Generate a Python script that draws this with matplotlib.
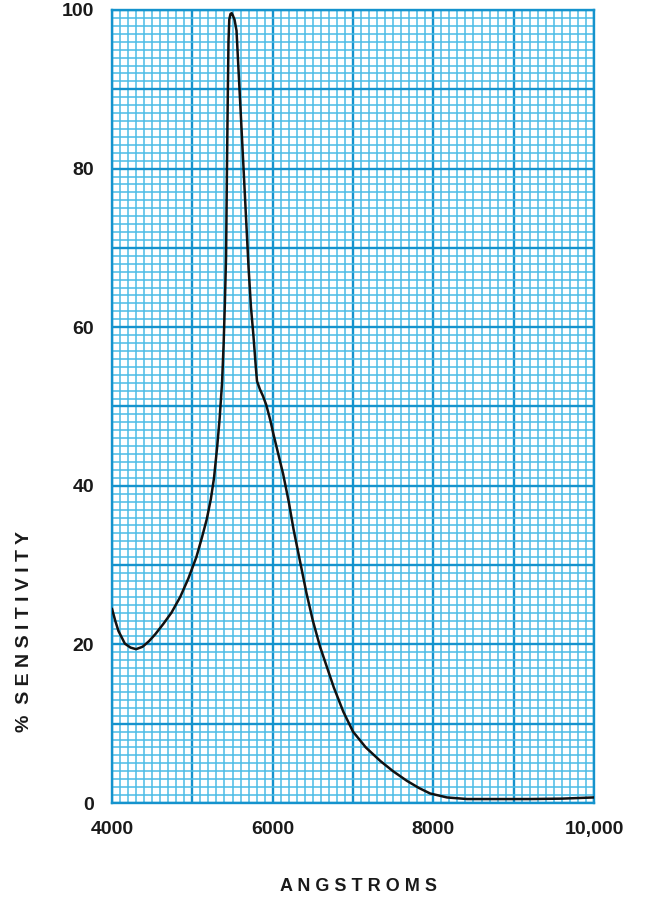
import matplotlib

matplotlib.use("Agg")
import matplotlib.pyplot as plt  # noqa: E402
from matplotlib.ticker import MultipleLocator  # noqa: E402

# spectral response curve, wavelength in angstroms
wavelength = [
    4000, 4040, 4080, 4160, 4230, 4300, 4380, 4460, 4540, 4640,
    4740, 4850, 4950, 5050, 5120, 5180, 5230, 5270, 5310, 5340,
    5370, 5390, 5405, 5420, 5430, 5440, 5450, 5460, 5475, 5490,
    5505, 5525, 5550, 5572, 5600, 5630, 5660, 5700, 5730, 5760,
    5790, 5805, 5840, 5880, 5920, 5970, 6010, 6070, 6130, 6200,
    6260, 6330, 6420, 6500, 6590, 6680, 6760, 6880, 7000, 7160,
    7340, 7500, 7670, 7820, 7960, 8170, 8420, 8800, 9200, 9600,
    10000,
]
sensitivity = [
    24.5, 23.0, 21.7, 20.1, 19.6, 19.4, 19.7, 20.4, 21.3, 22.6,
    24.0, 26.0, 28.3, 31.0, 33.5, 35.8, 38.3, 41.0, 45.0, 48.5,
    53.0, 58.0, 63.0, 69.0, 79.0, 88.0, 96.0, 98.8, 99.5, 99.6,
    99.3, 98.8, 97.4, 93.0, 87.5, 81.5, 75.5, 67.5, 62.5, 59.0,
    55.0, 53.2, 52.2, 51.3, 50.2, 48.3, 46.5, 44.0, 41.5, 38.0,
    34.5, 31.0, 26.5, 23.0, 19.7, 17.0, 14.6, 11.5, 9.0, 7.0,
    5.3, 4.0, 2.8, 1.9, 1.2, 0.7, 0.5, 0.5, 0.5, 0.55,
    0.7,
]

x_ticks = [4000, 5000, 6000, 7000, 8000, 9000, 10000]
x_labels = ["4000", "", "6000", "", "8000", "", "10,000"]
y_ticks = [0, 10, 20, 30, 40, 50, 60, 70, 80, 90, 100]
y_labels = ["0", "", "20", "", "40", "", "60", "", "80", "", "100"]

MINOR_BLUE = "#4bbce6"
MAJOR_BLUE = "#1593cd"
INK = "#1a1a1a"
FONT = "Liberation Sans"

fig = plt.figure(figsize=(6.45, 8.97), dpi=100)
ax = fig.add_axes([112 / 645, 1 - 803 / 897, 482 / 645, 793 / 897])

ax.set_xlim(4000, 10000)
ax.set_ylim(0, 100)

ax.xaxis.set_minor_locator(MultipleLocator(100))
ax.yaxis.set_minor_locator(MultipleLocator(1))
ax.set_xticks(x_ticks, x_labels)
ax.set_yticks(y_ticks, y_labels)

# graph-paper rules: fine every 100 A / 1 %, heavy every 1000 A / 10 %
ax.grid(which="minor", color=MINOR_BLUE, lw=1.1, zorder=1)
ax.grid(which="major", color=MAJOR_BLUE, lw=1.7, zorder=1)
ax.set_axisbelow(True)
for sp in ax.spines.values():
    sp.set_color(MAJOR_BLUE)
    sp.set_linewidth(1.7)

ax.tick_params(which="both", length=0)
ax.tick_params(axis="x", pad=13)
ax.tick_params(axis="y", pad=13)
for lab in ax.get_xticklabels() + ax.get_yticklabels():
    lab.set_fontfamily(FONT)
    lab.set_fontweight("bold")
    lab.set_fontsize(14)
    lab.set_color(INK)
for lab in ax.get_yticklabels():
    lab.set_verticalalignment("center_baseline")

ax.plot(wavelength, sensitivity, color="#111111", lw=1.8, zorder=3,
        solid_capstyle="round", solid_joinstyle="round")

fig.text(358 / 645, 1 - 886 / 897, "A N G S T R O M S", ha="center", va="center",
         fontsize=13, fontweight="bold", family=FONT, color=INK)
fig.text(25 / 645, 1 - 631 / 897, "%  S E N S I T I V I T Y", ha="center",
         va="center", rotation=90, fontsize=14, fontweight="bold", family=FONT,
         color=INK)

fig.savefig("out.png", dpi=100, facecolor="white")
